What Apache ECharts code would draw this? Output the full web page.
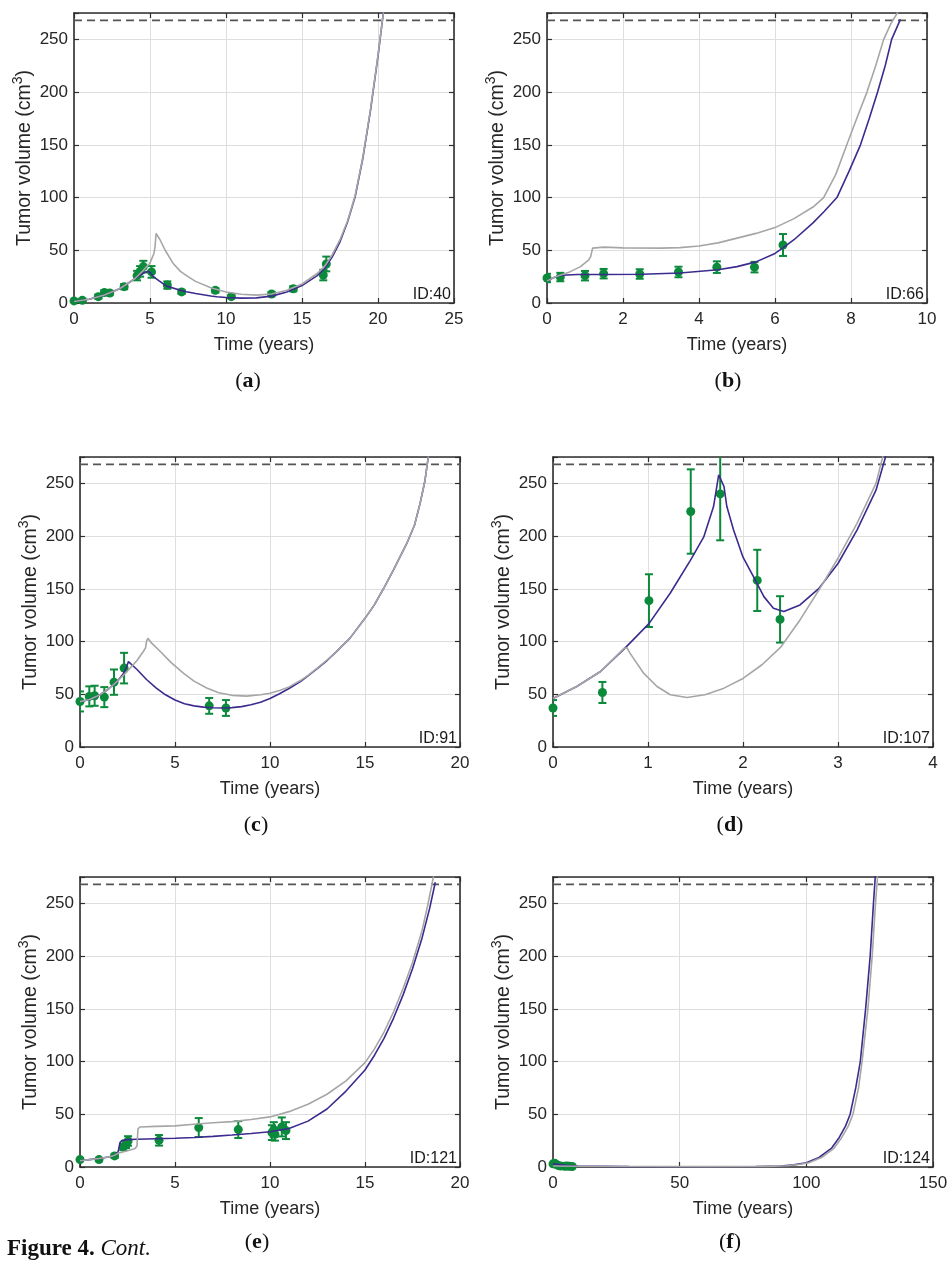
<!DOCTYPE html>
<html>
<head>
<meta charset="utf-8">
<script src="https://cdn.jsdelivr.net/npm/echarts@6/dist/echarts.min.js"></script>
<style>
html,body{margin:0;padding:0;background:#fff}
#chart{width:951px;height:1264px}
</style>
</head>
<body>
<div id="chart"></div>
<script>
// tumour volume fits, one panel per patient
// obs: [time, volume, error], model (purple) / alt (grey): [time, volume]
const threshold = 268;
const yMax = 275;

const obs40 = [[0,2,1.5],[0.55,2.5,1.5],[1.6,6,2],[2.0,10,2],[2.35,9.5,2],[3.3,15.5,2.5],[4.15,26,4.5],[4.35,30,5],[4.56,34.5,5.5],[5.1,29.5,5.5],[6.14,17,3.5],[7.08,10.5,2],[9.3,12,2],[10.35,6,1.5],[13.0,8.5,2],[14.43,13.5,2.5],[16.4,26.5,5],[16.6,37,7]];
const model40 = [[0,1.5],[1,3.5],[2,7.5],[3,13.5],[4,23],[4.5,28],[4.85,30],[5.0,29],[5.22,25],[5.6,21],[6.1,16],[7,12],[7.4,10.7],[8,9],[9,6.6],[9.4,6],[10,5.2],[11,4.6],[12,4.9],[13,6.5],[14,10.5],[15,16.5],[16,26],[16.5,33],[17,44],[17.5,58],[18,77],[18.5,101],[19,137],[19.5,182],[20,234],[20.35,275],[20.5,295]];
const alt40 = [[0,1.5],[1,3.5],[2,7.5],[3,13.5],[4,23],[4.5,30],[5,38],[5.26,47],[5.33,53],[5.4,66],[5.66,60],[6,50],[6.5,38],[7,30],[7.5,25],[8,20.5],[9,14.5],[10,10.5],[11,8.3],[12,7.5],[13,8.5],[14,12],[15,18],[16,28],[16.5,35],[17,46],[17.5,60],[18,78],[18.5,102],[19,138],[19.5,183],[20,235],[20.35,275],[20.5,295]];

const obs66 = [[0,23.7,4],[0.35,24.6,4],[1.0,25.9,4.5],[1.49,27.8,4.5],[2.44,27.5,4.5],[3.46,29.4,5],[4.47,34,5.5],[5.46,34,5],[6.21,55,10.4]];
const model66 = [[0,21],[0.2,24.5],[0.4,26.3],[0.8,27],[1.5,27],[2.5,27.2],[3.5,28.5],[4.5,31.5],[5,34.5],[5.5,39],[6,47],[6.2,52],[6.5,60],[7,76],[7.3,87],[7.63,100],[7.95,125],[8.25,150],[8.48,175],[8.7,200],[8.9,225],[9.07,250],[9.3,269]];
const alt66 = [[0,21],[0.2,24.5],[0.4,27],[0.6,29.5],[0.88,34.5],[1.1,41],[1.15,44],[1.2,52],[1.25,53.5],[1.5,53],[2,52.3],[3,52],[3.5,52.5],[4,54],[4.5,57],[5,61.5],[5.5,66],[6,71.5],[6.5,80],[7,91],[7.28,100],[7.6,122],[7.89,150],[8.15,175],[8.42,200],[8.65,225],[8.86,250],[9.05,265],[9.22,275],[9.3,285]];

const obs91 = [[0,43.2,9.5],[0.49,48,9.5],[0.77,48.6,9.5],[1.28,47.3,9.5],[1.79,61.5,12],[2.32,74.8,14.5],[6.8,39,7.5],[7.68,37,7.5]];
const model91 = [[0,43],[0.5,45],[1,49],[1.5,55],[2,63],[2.3,70],[2.45,76],[2.55,81],[2.65,80],[3,73.5],[3.5,64],[4,56],[4.5,49.5],[5,44.5],[5.5,41],[6,39],[6.5,37.8],[7,37.2],[7.5,37],[8,37.3],[8.5,38.3],[9,40],[9.5,42.5],[10,46],[10.5,50.5],[11,55.5],[11.6,62],[12,67.5],[12.5,74.5],[13,82],[13.5,90.5],[14.2,103],[15,122],[15.5,135],[16,151],[16.5,168],[17.2,193],[17.6,210],[17.9,231],[18.15,252],[18.33,275],[18.4,285]];
const alt91 = [[0,43],[0.5,45],[1,49],[1.5,55],[2,63],[2.5,72],[3,82],[3.35,91],[3.45,94],[3.5,100],[3.57,103],[3.8,98],[4.2,91],[4.8,80],[5.44,70],[6,62.5],[6.67,56],[7.3,51.5],[8,49],[8.77,48.2],[9.5,49.5],[10,51],[10.5,53.5],[11,57],[11.6,63],[12,68],[12.5,75],[13,82.5],[13.5,90.5],[14.2,103],[15,122],[15.5,135],[16,151],[16.5,168],[17.2,193],[17.6,210],[17.9,231],[18.15,252],[18.33,275],[18.4,285]];

const obs107 = [[0,37,7.5],[0.52,51.7,10],[1.01,138.8,25],[1.45,223.3,40],[1.76,240,44],[2.15,158,29],[2.39,121,22]];
const model107 = [[0,46],[0.25,57.4],[0.5,71.6],[0.75,93],[1.01,117],[1.235,146],[1.446,177],[1.586,199],[1.69,228],[1.744,258],[1.8,247],[1.83,228],[1.9,206],[2.0,180],[2.11,161.5],[2.22,142.6],[2.32,131.5],[2.43,128.4],[2.6,134.7],[2.8,150.5],[3.0,174],[3.2,205.7],[3.4,243.5],[3.5,275],[3.52,285]];
const alt107 = [[0,46],[0.25,57.4],[0.5,71.6],[0.75,93.7],[0.78,94],[0.81,89],[0.954,70],[1.095,57.4],[1.235,49.5],[1.41,47],[1.6,49.5],[1.8,55.8],[2,65],[2.2,78],[2.4,95],[2.6,120.5],[2.8,149],[3,179],[3.2,212],[3.4,250],[3.47,275],[3.5,285]];

const obs121 = [[0,7,1.5],[1.0,7,1.5],[1.82,10.5,2],[2.28,19,3],[2.42,21.5,3.5],[2.53,24.7,4.5],[4.16,25.3,5],[6.25,37.4,9],[8.33,35.5,8],[10.1,32.6,7],[10.2,35.5,7],[10.26,31,6],[10.62,38,9],[10.84,34.5,8]];
const model121 = [[0,6],[0.5,7],[1,8],[1.5,9.5],[1.8,11],[2.0,14],[2.05,18],[2.1,23],[2.2,25],[2.5,26],[3,26.3],[4,26.8],[5,27.3],[6,28],[7,29],[8,30.3],[9,31.8],[10,33.5],[11,36.5],[12,43.5],[13,55],[14,72],[15,92],[15.5,106],[16,122],[16.5,141],[17,163],[17.5,188],[18,217],[18.4,245],[18.7,270]];
const alt121 = [[0,6],[0.5,7],[1,8],[1.5,9.5],[1.8,11],[2,13],[2.5,15.5],[2.9,17.5],[3.0,20],[3.05,36],[3.15,38],[4,38.5],[5,39],[6,40.5],[7,42],[8,43],[9,45],[10,47.5],[11,52.5],[12,59.5],[13,69],[14,81.7],[15,99],[15.5,112],[16,128],[16.5,147],[17,169],[17.5,194],[18,224],[18.3,248],[18.6,275],[18.7,285]];

const obs124 = [[0,3,0.8],[0.7,3.5,0.8],[1.2,2.5,0.8],[2,1.5,0.5],[3,1,0.5],[4.6,0.6,0.3],[5.5,1,0.3],[6.5,0.7,0.3],[7.6,0.5,0.3]];
const model124 = [[0,3],[5,1.5],[10,0.8],[30,0.4],[60,0.3],[80,0.5],[90,1],[95,2],[100,4],[105,9],[110,18],[113,28],[115.5,39],[117.3,50],[119.5,75],[121.3,100],[123.4,150],[125.2,200],[126.5,250],[127.2,275],[127.4,285]];
const alt124 = [[0,1],[10,0.7],[60,0.4],[85,0.6],[92,1.2],[97,2.3],[101,4],[106,9],[111,18],[114,28],[116.6,39],[118.4,50],[120.6,75],[122,100],[124.3,150],[126,200],[127.3,250],[128.1,275],[128.3,285]];

const FONT = '"Liberation Sans", Arial, sans-serif';
const SERIF = '"Liberation Serif", "Times New Roman", serif';
const GREEN = '#0b8a3b';
const PURPLE = '#3c2a8e';
const GRAY = '#a6a6a6';
const INK = '#262626';
const FRAME = '#2e2e2e';
const W = 380, H = 290;

const panels = [
    {id:'ID:40',  obs:obs40,  model:model40,  alt:alt40,  xMax:25,  xStep:5,  left:74,  top:13,  cap:'a', capX:248, capY:381},
    {id:'ID:66',  obs:obs66,  model:model66,  alt:alt66,  xMax:10,  xStep:2,  left:547, top:13,  cap:'b', capX:728, capY:381},
    {id:'ID:91',  obs:obs91,  model:model91,  alt:alt91,  xMax:20,  xStep:5,  left:80,  top:457, cap:'c', capX:256, capY:825},
    {id:'ID:107', obs:obs107, model:model107, alt:alt107, xMax:4,   xStep:1,  left:553, top:457, cap:'d', capX:730, capY:825},
    {id:'ID:121', obs:obs121, model:model121, alt:alt121, xMax:20,  xStep:5,  left:80,  top:877, cap:'e', capX:257, capY:1242},
    {id:'ID:124', obs:obs124, model:model124, alt:alt124, xMax:150, xStep:50, left:553, top:877, cap:'f', capX:730, capY:1242}
];

function errorBar(params, api) {
    const t = api.value(0), v = api.value(1), e = api.value(2);
    const hi = api.coord([t, v + e]);
    const lo = api.coord([t, v - e]);
    const cap = 4;
    const style = {stroke: GREEN, lineWidth: 2};
    return {type:'group', children:[
        {type:'line', shape:{x1:hi[0], y1:hi[1], x2:lo[0], y2:lo[1]}, style:style},
        {type:'line', shape:{x1:hi[0]-cap, y1:hi[1], x2:hi[0]+cap, y2:hi[1]}, style:style},
        {type:'line', shape:{x1:lo[0]-cap, y1:lo[1], x2:lo[0]+cap, y2:lo[1]}, style:style}
    ]};
}

function tick() {
    return {show:true, inside:true, length:5, lineStyle:{color:FRAME, width:1.2}};
}
function frameLine() {
    return {show:true, onZero:false, lineStyle:{color:FRAME, width:1.6}};
}
const split = {show:true, lineStyle:{color:'#dedede', width:1}};
const grid = [], xAxis = [], yAxis = [], series = [], graphic = [];

panels.forEach(function(p, i) {
    grid.push({left:p.left, top:p.top, width:W, height:H, show:false,
        containLabel:false, outerBoundsMode:'none'});
    xAxis.push({type:'value', gridIndex:i, min:0, max:p.xMax, interval:p.xStep, position:'bottom',
        name:'Time (years)', nameLocation:'middle', nameGap:33, nameMoveOverlap:false,
        nameTextStyle:{fontFamily:FONT, fontSize:18, color:INK},
        axisLine:frameLine(), axisTick:tick(), splitLine:split,
        axisLabel:{margin:8, fontFamily:FONT, fontSize:17, color:INK}});
    xAxis.push({type:'value', gridIndex:i, min:0, max:p.xMax, interval:p.xStep, position:'top',
        axisLine:frameLine(), axisTick:tick(), splitLine:{show:false}, axisLabel:{show:false}});
    yAxis.push({type:'value', gridIndex:i, min:0, max:yMax, interval:50, position:'left',
        name:'Tumor volume (cm{sup|3})', nameLocation:'middle', nameGap:36, nameMoveOverlap:false,
        nameTextStyle:{fontFamily:FONT, fontSize:19.5, color:INK,
            rich:{sup:{fontFamily:FONT, fontSize:14, color:INK, padding:[0,0,13,0]}}},
        axisLine:frameLine(), axisTick:tick(), splitLine:split,
        axisLabel:{margin:6, fontFamily:FONT, fontSize:17, color:INK,
            formatter:function(v){ return v > 260 ? '' : String(v); }}});
    yAxis.push({type:'value', gridIndex:i, min:0, max:yMax, interval:50, position:'right',
        axisLine:frameLine(), axisTick:tick(), splitLine:{show:false}, axisLabel:{show:false}});

    const xi = 2 * i, yi = 2 * i;
    series.push({type:'line', xAxisIndex:xi, yAxisIndex:yi, data:[[0, threshold], [p.xMax, threshold]],
        symbol:'none', silent:true, lineStyle:{color:'#555', width:1.8, type:[8, 5]}});
    series.push({type:'line', xAxisIndex:xi, yAxisIndex:yi, data:p.model, symbol:'none',
        lineStyle:{color:PURPLE, width:1.6}});
    series.push({type:'line', xAxisIndex:xi, yAxisIndex:yi, data:p.alt, symbol:'none',
        lineStyle:{color:GRAY, width:1.6}});
    series.push({type:'custom', xAxisIndex:xi, yAxisIndex:yi, data:p.obs, clip:true,
        renderItem:errorBar, encode:{x:0, y:1}});
    series.push({type:'scatter', xAxisIndex:xi, yAxisIndex:yi, data:p.obs.map(function(d){ return [d[0], d[1]]; }),
        symbol:'circle', symbolSize:9, itemStyle:{color:GREEN, opacity:1}});

    graphic.push({type:'text', x:p.left + W - 3, y:p.top + H, z:100,
        style:{text:p.id, align:'right', verticalAlign:'bottom', font:'16px ' + FONT, fill:'#1a1a1a'}});
    graphic.push({type:'text', x:p.capX, y:p.capY, z:100,
        style:{text:'({b|' + p.cap + '})', align:'center', verticalAlign:'middle',
            font:'22px ' + SERIF, fill:'#111',
            rich:{b:{fontWeight:'bold', fontSize:22, fontFamily:SERIF, fill:'#111'}}}});
});

graphic.push({type:'text', x:7, y:1249, z:100,
    style:{text:'{b|Figure 4.} {i|Cont.}', align:'left', verticalAlign:'middle',
        font:'23px ' + SERIF, fill:'#111',
        rich:{b:{fontWeight:'bold', fontSize:23, fontFamily:SERIF, fill:'#111'},
              i:{fontStyle:'italic', fontSize:23, fontFamily:SERIF, fill:'#111'}}}});

const chart = echarts.init(document.getElementById('chart'));
chart.setOption({
    animation:false,
    backgroundColor:'#fff',
    grid:grid,
    xAxis:xAxis,
    yAxis:yAxis,
    series:series,
    graphic:graphic
});
</script>
</body>
</html>
